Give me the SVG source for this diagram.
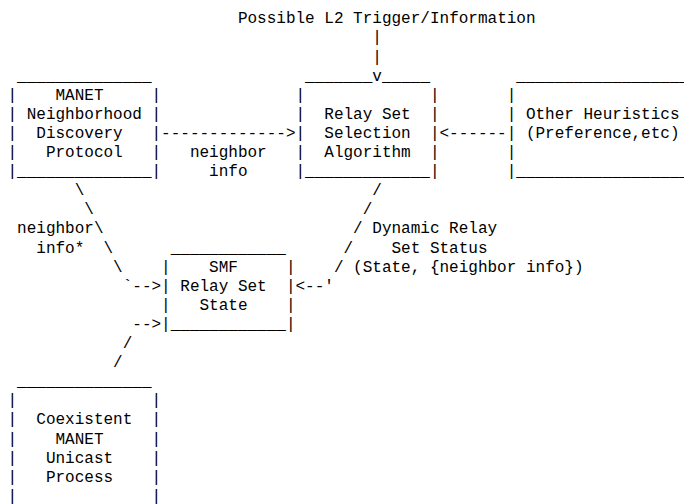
<svg xmlns="http://www.w3.org/2000/svg" width="684" height="504" viewBox="0 0 684 504" xml:space="preserve">
<style>
text { font-family: "Liberation Mono", "Courier New", monospace; font-size: 16px; fill: #000; white-space: pre; }
</style>
<rect x="0" y="0" width="684" height="504" fill="#fff"/>
<g id="manet-ndp">
<text x="17.1" y="80.6">______________</text>
<text x="7.5" y="99.7">|    MANET     |</text>
<text x="7.5" y="118.8">| Neighborhood |</text>
<text x="7.5" y="137.9">|  Discovery   |</text>
<text x="7.5" y="157.0">|   Protocol   |</text>
<text x="7.5" y="176.1">|______________|</text>
</g>
<g id="relay-set-selection">
<text x="305.1" y="80.6">_______</text>
<text x="382.0" y="80.6">_____</text>
<text x="295.5" y="99.7">|             |</text>
<text x="295.5" y="118.8">|  Relay Set  |</text>
<text x="295.5" y="137.9">|  Selection  |</text>
<text x="295.5" y="157.0">|  Algorithm  |</text>
<text x="295.5" y="176.1">|_____________|</text>
</g>
<g id="other-heuristics">
<text x="516.3" y="80.6">__________________</text>
<text x="506.7" y="99.7">|</text>
<text x="506.7" y="118.8">| Other Heuristics</text>
<text x="506.7" y="137.9">| (Preference,etc)</text>
<text x="506.7" y="157.0">|</text>
<text x="506.7" y="176.1">|__________________</text>
</g>
<g id="smf-relay-set-state">
<text x="170.7" y="252.5">____________</text>
<text x="161.1" y="271.6">|    SMF     |</text>
<text x="161.1" y="290.7">| Relay Set  |</text>
<text x="161.1" y="309.8">|   State    |</text>
<text x="161.1" y="328.9">|____________|</text>
</g>
<g id="coexistent-unicast">
<text x="17.1" y="386.2">______________</text>
<text x="7.5" y="405.3">|              |</text>
<text x="7.5" y="424.4">|  Coexistent  |</text>
<text x="7.5" y="443.5">|    MANET     |</text>
<text x="7.5" y="462.6">|   Unicast    |</text>
<text x="7.5" y="481.7">|   Process    |</text>
<text x="7.5" y="500.8">|              |</text>
</g>
<g id="connectors">
<text x="237.9" y="23.3">Possible L2 Trigger/Information</text>
<text x="372.3" y="42.4">|</text>
<text x="372.3" y="61.5">|</text>
<text x="372.3" y="80.6">v</text>
<text x="161.1" y="137.9">-------------&gt;</text>
<text x="189.9" y="157.0">neighbor</text>
<text x="209.1" y="176.1">info</text>
<text x="439.5" y="137.9">&lt;------</text>
<text x="74.7" y="195.2">\</text>
<text x="84.3" y="214.3">\</text>
<text x="17.1" y="233.4">neighbor\</text>
<text x="36.3" y="252.5">info*</text>
<text x="103.5" y="252.5">\</text>
<text x="113.1" y="271.6">\</text>
<text x="122.7" y="290.7">`--&gt;</text>
<text x="372.3" y="195.2">/</text>
<text x="362.7" y="214.3">/</text>
<text x="353.1" y="233.4">/ Dynamic Relay</text>
<text x="343.5" y="252.5">/    Set Status</text>
<text x="333.9" y="271.6">/ (State, {neighbor info})</text>
<text x="295.5" y="290.7">&lt;--'</text>
<text x="132.3" y="328.9">--&gt;</text>
<text x="122.7" y="348.0">/</text>
<text x="113.1" y="367.1">/</text>
</g>
</svg>
